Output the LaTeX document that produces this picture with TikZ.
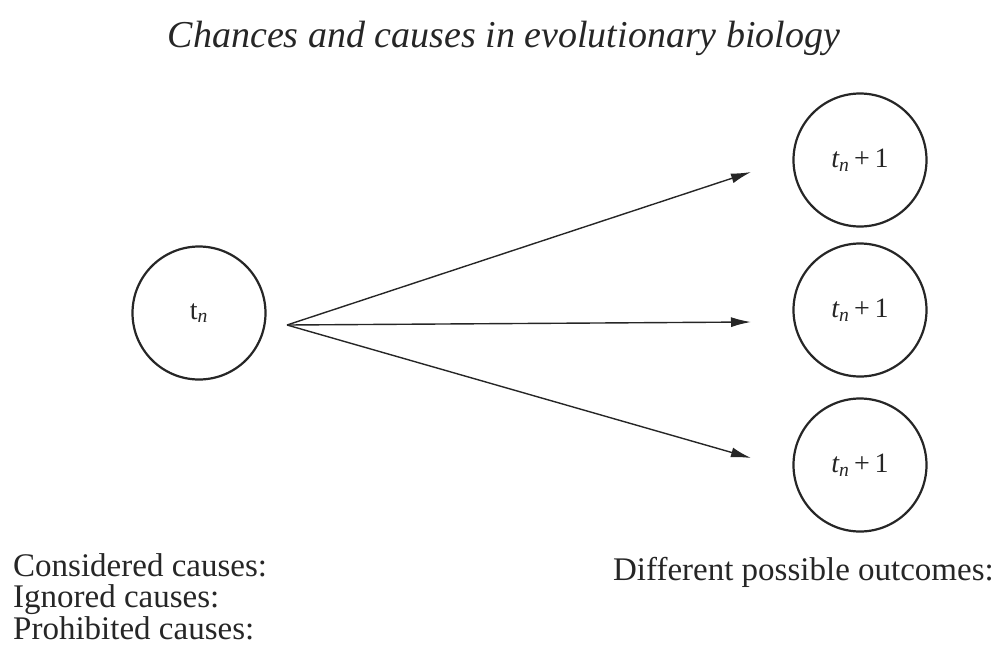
\documentclass[tikz,border=0pt]{standalone}
\usepackage{fontspec}
\setmainfont{Liberation Serif}
\usetikzlibrary{arrows.meta}
\definecolor{ink}{HTML}{262626}
\begin{document}
\begin{tikzpicture}[x=1pt,y=-1pt,
  state/.style={circle,draw=ink,line width=2.2pt,minimum size=133pt,inner sep=0pt,text=ink,font=\fontsize{28}{32}\selectfont},
  conn/.style={draw=ink,line width=1.4pt,-{Latex[length=20pt,width=10pt]}},
  lbl/.style={text=ink,font=\fontsize{33}{31.5}\selectfont,inner sep=0pt}]
\useasboundingbox (0,0) rectangle (1002,657);
\node[text=ink,font=\fontsize{38}{44}\selectfont\itshape,inner sep=0pt] (title) at (504,38) {Chances and causes in evolutionary biology};
\node[state] (tn) at (199,313) {t\textsubscript{\itshape n}};
\node[state] (o1) at (860,160) {{\itshape t\textsubscript{n}}\,+\,1};
\node[state] (o2) at (860,310) {{\itshape t\textsubscript{n}}\,+\,1};
\node[state] (o3) at (860,465) {{\itshape t\textsubscript{n}}\,+\,1};
\coordinate (src) at (287,325);
\coordinate (e1) at (751,172);
\coordinate (e2) at (751,322);
\coordinate (e3) at (751,458);
\draw[conn] (src) -- (e1);
\draw[conn] (src) -- (e2);
\draw[conn] (src) -- (e3);
\node[lbl,anchor=north west,align=left] (causes) at (13,553) {Considered causes:\\Ignored causes:\\Prohibited causes:};
\node[lbl,anchor=north east] (outcomes) at (994,557) {Different possible outcomes:};
\end{tikzpicture}
\end{document}
